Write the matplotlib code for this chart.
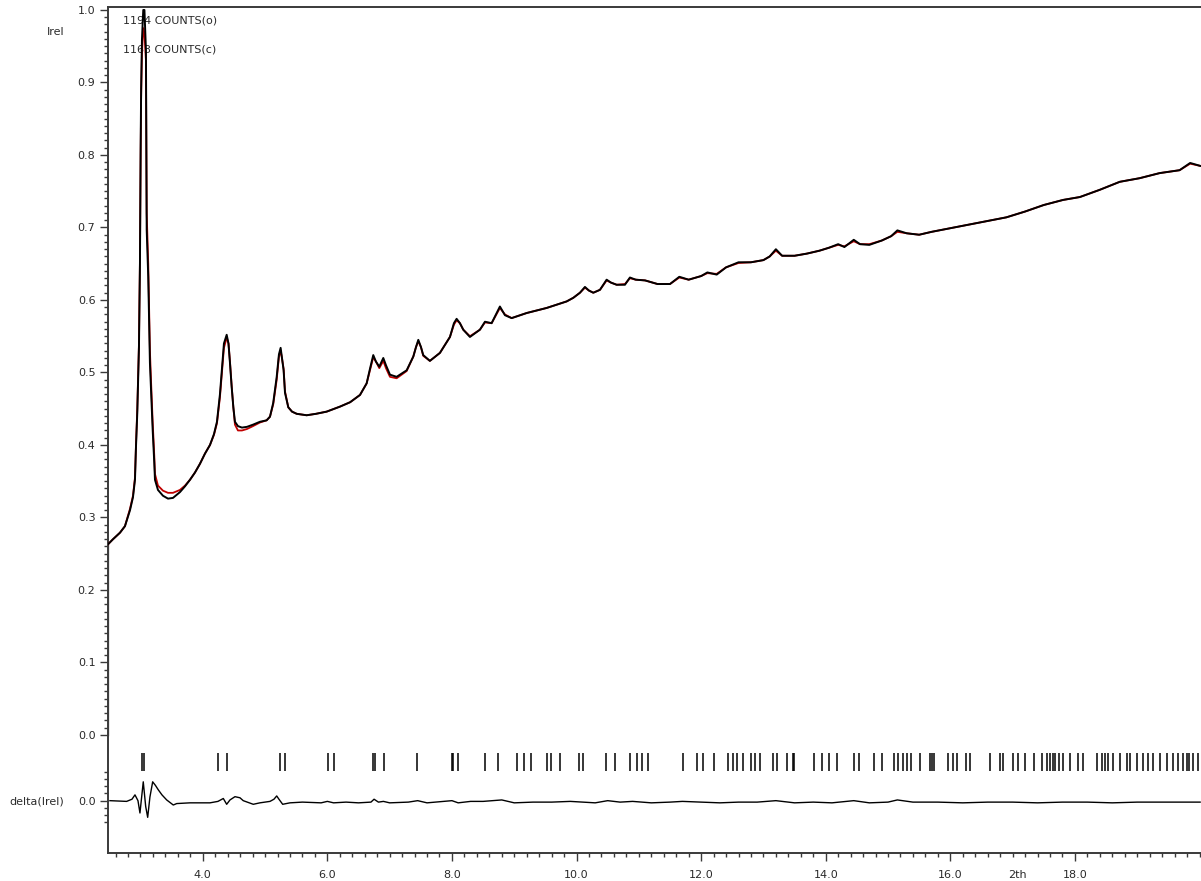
import matplotlib
matplotlib.use("Agg")
import matplotlib.pyplot as plt
from matplotlib.ticker import FixedLocator, NullFormatter

# Observed powder pattern: 2theta (deg) and relative intensity
two_theta = [
    2.479, 2.559, 2.671, 2.751, 2.832, 2.880, 2.912, 2.928, 2.949, 2.976,
    2.992, 3.003, 3.011, 3.024, 3.045, 3.064, 3.088, 3.100, 3.125, 3.152,
    3.169, 3.196, 3.222, 3.233, 3.281, 3.361, 3.442, 3.522, 3.634, 3.715,
    3.795, 3.875, 3.955, 4.035, 4.116, 4.180, 4.228, 4.276, 4.308, 4.340,
    4.384, 4.413, 4.437, 4.464, 4.491, 4.517, 4.565, 4.629, 4.709, 4.806,
    4.918, 5.025, 5.079, 5.131, 5.187, 5.223, 5.250, 5.271, 5.298, 5.320,
    5.373, 5.433, 5.508, 5.668, 5.818, 5.989, 6.205, 6.366, 6.524, 6.631,
    6.684, 6.737, 6.780, 6.834, 6.898, 6.941, 7.005, 7.112, 7.273, 7.380,
    7.423, 7.460, 7.503, 7.539, 7.646, 7.807, 7.968, 8.032, 8.075, 8.128,
    8.182, 8.289, 8.449, 8.530, 8.637, 8.706, 8.770, 8.851, 8.958, 9.199,
    9.520, 9.841, 9.948, 10.055, 10.135, 10.199, 10.269, 10.376, 10.483, 10.552,
    10.644, 10.777, 10.857, 10.950, 11.100, 11.300, 11.500, 11.650, 11.800, 12.000,
    12.100, 12.250, 12.400, 12.600, 12.800, 13.000, 13.100, 13.200, 13.300, 13.500,
    13.700, 13.900, 14.050, 14.200, 14.300, 14.450, 14.550, 14.700, 14.900, 15.050,
    15.150, 15.300, 15.500, 15.700, 16.000, 16.300, 16.600, 16.900, 17.200, 17.500,
    17.810, 18.080, 18.400, 18.720, 19.040, 19.360, 19.680, 19.850, 20.010,
]
i_obs = [
    0.263, 0.270, 0.279, 0.288, 0.310, 0.328, 0.352, 0.397, 0.444, 0.535,
    0.651, 0.811, 0.892, 0.959, 1.000, 1.000, 0.945, 0.697, 0.632, 0.513,
    0.476, 0.421, 0.375, 0.352, 0.338, 0.330, 0.326, 0.327, 0.335, 0.343,
    0.352, 0.362, 0.374, 0.388, 0.400, 0.415, 0.432, 0.470, 0.505, 0.540,
    0.552, 0.540, 0.513, 0.480, 0.452, 0.432, 0.426, 0.424, 0.425, 0.428,
    0.432, 0.434, 0.439, 0.458, 0.494, 0.525, 0.534, 0.520, 0.503, 0.472,
    0.452, 0.446, 0.443, 0.441, 0.443, 0.446, 0.453, 0.459, 0.469, 0.485,
    0.505, 0.524, 0.515, 0.508, 0.520, 0.510, 0.497, 0.494, 0.503, 0.522,
    0.535, 0.545, 0.535, 0.524, 0.516, 0.527, 0.549, 0.568, 0.574, 0.568,
    0.559, 0.549, 0.559, 0.570, 0.568, 0.580, 0.591, 0.579, 0.575, 0.582,
    0.589, 0.598, 0.603, 0.610, 0.618, 0.613, 0.610, 0.614, 0.628, 0.624,
    0.621, 0.621, 0.631, 0.628, 0.627, 0.622, 0.622, 0.632, 0.628, 0.633,
    0.638, 0.635, 0.645, 0.652, 0.652, 0.655, 0.660, 0.670, 0.661, 0.661,
    0.664, 0.668, 0.672, 0.677, 0.673, 0.683, 0.677, 0.676, 0.682, 0.688,
    0.696, 0.692, 0.690, 0.694, 0.699, 0.704, 0.709, 0.714, 0.722, 0.731,
    0.738, 0.742, 0.752, 0.763, 0.768, 0.775, 0.779, 0.789, 0.785,
]
# Calculated pattern at the same 2theta points
i_calc = [
    0.263, 0.270, 0.279, 0.288, 0.312, 0.330, 0.355, 0.400, 0.450, 0.540,
    0.655, 0.800, 0.880, 0.940, 0.975, 0.968, 0.930, 0.720, 0.650, 0.530,
    0.490, 0.432, 0.385, 0.360, 0.344, 0.337, 0.334, 0.334, 0.338, 0.344,
    0.352, 0.362, 0.374, 0.388, 0.400, 0.414, 0.430, 0.466, 0.500, 0.534,
    0.548, 0.540, 0.515, 0.482, 0.452, 0.428, 0.420, 0.420, 0.422, 0.426,
    0.431, 0.434, 0.439, 0.456, 0.490, 0.522, 0.530, 0.520, 0.505, 0.474,
    0.452, 0.446, 0.443, 0.441, 0.443, 0.446, 0.453, 0.459, 0.469, 0.485,
    0.503, 0.521, 0.515, 0.506, 0.516, 0.506, 0.494, 0.492, 0.502, 0.522,
    0.535, 0.543, 0.535, 0.523, 0.516, 0.527, 0.549, 0.566, 0.572, 0.568,
    0.559, 0.550, 0.559, 0.569, 0.568, 0.579, 0.589, 0.580, 0.575, 0.582,
    0.589, 0.598, 0.603, 0.610, 0.617, 0.613, 0.610, 0.614, 0.627, 0.624,
    0.621, 0.622, 0.630, 0.628, 0.627, 0.622, 0.622, 0.631, 0.628, 0.633,
    0.637, 0.636, 0.645, 0.651, 0.652, 0.655, 0.660, 0.668, 0.661, 0.661,
    0.664, 0.668, 0.672, 0.676, 0.674, 0.681, 0.677, 0.677, 0.682, 0.688,
    0.694, 0.692, 0.690, 0.694, 0.699, 0.704, 0.709, 0.714, 0.722, 0.731,
    0.738, 0.742, 0.752, 0.763, 0.768, 0.775, 0.779, 0.788, 0.785,
]

# Difference curve (obs - calc)
diff_theta = [
    2.510, 2.778, 2.864, 2.912, 2.960, 2.992, 3.045, 3.084, 3.116, 3.152,
    3.196, 3.241, 3.286, 3.345, 3.421, 3.527, 3.582, 3.795, 4.116, 4.244,
    4.330, 4.384, 4.437, 4.517, 4.597, 4.650, 4.811, 4.918, 5.079, 5.143,
    5.187, 5.223, 5.283, 5.400, 5.600, 5.900, 6.000, 6.100, 6.300, 6.500,
    6.700, 6.750, 6.820, 6.900, 7.000, 7.300, 7.450, 7.600, 8.000, 8.100,
    8.300, 8.500, 8.800, 9.000, 9.300, 9.600, 9.900, 10.100, 10.300, 10.500,
    10.700, 10.900, 11.200, 11.500, 11.700, 12.000, 12.300, 12.600, 12.900, 13.200,
    13.500, 13.800, 14.100, 14.450, 14.700, 15.000, 15.150, 15.400, 15.800, 16.200,
    16.600, 17.000, 17.400, 17.800, 18.200, 18.600, 19.000, 19.400, 19.800, 20.010,
]
diff_val = [
    0.000, -0.001, 0.002, 0.008, 0.000, -0.017, 0.026, -0.008, -0.023, 0.005,
    0.026, 0.021, 0.015, 0.008, 0.001, -0.006, -0.004, -0.003, -0.003, -0.001,
    0.003, -0.005, 0.001, 0.0055, 0.004, 0.000, -0.005, -0.003, -0.001, 0.002,
    0.0065, 0.002, -0.005, -0.003, -0.002, -0.003, -0.001, -0.003, -0.002, -0.003,
    -0.002, 0.002, -0.002, -0.001, -0.003, -0.002, 0.000, -0.003, 0.000, -0.003,
    -0.001, -0.001, 0.001, -0.003, -0.002, -0.002, -0.001, -0.002, -0.003, 0.000,
    -0.002, -0.001, -0.003, -0.002, -0.001, -0.002, -0.003, -0.002, -0.002, 0.000,
    -0.003, -0.002, -0.003, 0.000, -0.003, -0.002, 0.001, -0.002, -0.002, -0.003,
    -0.002, -0.002, -0.003, -0.002, -0.002, -0.003, -0.002, -0.002, -0.002, -0.002,
]

# Bragg reflection positions (2theta)
reflections = [
    3.019, 3.061, 4.249, 4.384, 5.239, 5.320, 6.014, 6.111, 6.737, 6.764,
    6.909, 7.443, 7.995, 8.021, 8.101, 8.530, 8.743, 9.038, 9.156, 9.263,
    9.530, 9.584, 9.734, 10.043, 10.108, 10.472, 10.616, 10.857, 10.965, 11.045,
    11.151, 11.703, 11.928, 12.034, 12.210, 12.425, 12.506, 12.579, 12.676, 12.794,
    12.863, 12.944, 13.157, 13.212, 13.372, 13.470, 13.494, 13.811, 13.934, 14.057,
    14.175, 14.453, 14.538, 14.779, 14.907, 15.095, 15.164, 15.235, 15.299, 15.368,
    15.512, 15.673, 15.700, 15.742, 15.967, 16.047, 16.101, 16.251, 16.315, 16.636,
    16.797, 16.840, 17.010, 17.090, 17.198, 17.342, 17.466, 17.546, 17.599, 17.643,
    17.680, 17.749, 17.803, 17.920, 18.054, 18.134, 18.359, 18.430, 18.482, 18.535,
    18.616, 18.723, 18.831, 18.884, 19.001, 19.097, 19.178, 19.258, 19.366, 19.483,
    19.579, 19.660, 19.740, 19.795, 19.836, 19.900, 19.981,
]

counts_obs = 1194
counts_calc = 1163

x_major = [4.0, 6.0, 8.0, 10.0, 12.0, 14.0, 16.0, 18.0]
y_major = [0.0, 0.1, 0.2, 0.3, 0.4, 0.5, 0.6, 0.7, 0.8, 0.9, 1.0]

# vertical layout of the lower panel (in intensity units)
DIFF_ZERO = -0.0906
REFL_TOP = -0.0248
REFL_BOTTOM = -0.0497

TXT = "#2a2a2a"
AXC = "#3a3a3a"
plt.rcParams["font.family"] = ["DejaVu Sans"]
plt.rcParams["font.size"] = 8

fig = plt.figure(figsize=(12.01, 8.81), dpi=100)
ax = fig.add_axes([108 / 1201, (881 - 853.3) / 881, 1 - 108 / 1201, (853.3 - 7.3) / 881])

ax.set_xlim(2.479, 20.024)
ax.set_ylim(-0.1632, 1.0037)

# curves
ax.plot([two_theta[0], two_theta[0]], [0.0, i_obs[0]], color="#888888", lw=1.0, zorder=2)
ax.plot(two_theta, i_calc, color="#c00000", lw=1.3, zorder=3)
ax.plot(two_theta, i_obs, color="black", lw=1.4, zorder=4)
ax.plot(diff_theta, [DIFF_ZERO + d for d in diff_val], color="black", lw=1.0, zorder=4)
ax.vlines(reflections, REFL_BOTTOM, REFL_TOP, color="black", lw=1.1, zorder=4)

# spines
for side in ("left", "bottom", "top"):
    ax.spines[side].set_color(AXC)
    ax.spines[side].set_linewidth(1.4)
ax.spines["right"].set_visible(False)

# x axis
ax.xaxis.set_major_locator(FixedLocator(x_major))
ax.set_xticklabels([f"{v:.1f}" for v in x_major])
minor_x = [round(2.6 + 0.2 * k, 2) for k in range(88)]
ax.xaxis.set_minor_locator(FixedLocator([v for v in minor_x if v not in x_major]))
ax.tick_params(axis="x", which="major", length=5.5, width=1.0, color=AXC,
               labelcolor=TXT, labelsize=8, pad=6.5)
ax.tick_params(axis="x", which="minor", length=3, width=1.0, color=AXC)

# y axis: main scale plus difference zero
yt = [DIFF_ZERO] + y_major
ax.yaxis.set_major_locator(FixedLocator(yt))
ax.set_yticklabels(["0.0"] + [f"{v:.1f}" for v in y_major])
minor_y = [k / 100 for k in range(1, 100) if k % 10]
minor_y += [DIFF_ZERO + 0.01 * k for k in (-3, -2, -1, 1, 2, 3, 4)]
ax.yaxis.set_minor_locator(FixedLocator(minor_y))
ax.yaxis.set_minor_formatter(NullFormatter())
ax.tick_params(axis="y", which="major", length=6, width=1.0, color=AXC,
               labelcolor=TXT, labelsize=8, pad=3)
ax.tick_params(axis="y", which="minor", length=3, width=1.0, color=AXC)

# labels
fig.text(56 / 1201, 1 - 31.7 / 881, "Irel", ha="center", va="center", color=TXT, fontsize=8)
fig.text(37 / 1201, 1 - 802 / 881, "delta(Irel)", ha="center", va="center", color=TXT, fontsize=8)
fig.text(1017 / 1201, 1 - 875 / 881, "2th", ha="center", va="center", color=TXT, fontsize=8)
ax.text(2.72, 0.986, f"{counts_obs} COUNTS(o)", ha="left", va="center", color=TXT,
        fontsize=8, zorder=1)
ax.text(2.72, 0.946, f"{counts_calc} COUNTS(c)", ha="left", va="center", color=TXT,
        fontsize=8, zorder=1)

fig.savefig("out.png", dpi=100, facecolor="white")
